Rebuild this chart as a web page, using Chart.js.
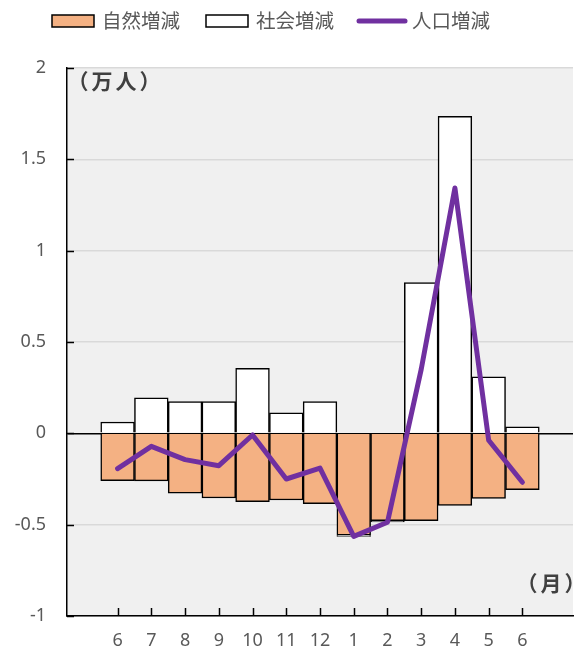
<!DOCTYPE html>
<html>
<head>
<meta charset="utf-8">
<script src="https://cdn.jsdelivr.net/npm/chart.js@4/dist/chart.umd.min.js"></script>
<style>
  html, body { margin: 0; padding: 0; background: #ffffff; }
  #wrap { width: 579px; height: 652px; }
</style>
</head>
<body>
<div id="wrap"><canvas id="c" width="579" height="652"></canvas></div>
<script>
// ---- data (万人) ----
const months = ['6','7','8','9','10','11','12','1','2','3','4','5','6'];
const naturalChange = [-0.259, -0.26, -0.328, -0.354, -0.374, -0.365, -0.385, -0.558, -0.478, -0.478, -0.394, -0.356, -0.308];
const socialChange  = [0.062, 0.194, 0.174, 0.174, 0.356, 0.112, 0.174, -0.007, -0.007, 0.825, 1.735, 0.31, 0.035];
const populationChange = [-0.193, -0.071, -0.144, -0.177, -0.009, -0.25, -0.19, -0.564, -0.487, 0.35, 1.343, -0.038, -0.268];
const yTicks = [-1, -0.5, 0, 0.5, 1, 1.5, 2];
const yTickLabels = ['-1', '-0.5', '0', '0.5', '1', '1.5', '2'];
const seriesNames = ['自然増減', '社会増減', '人口増減'];
const yUnit = '（万人）';
const xUnit = '（月）';

// pad one empty category on each side
const labels = [''].concat(months, ['']);
const pad = arr => [null].concat(arr, [null]);

const CJK = '"Noto Sans CJK JP", "Noto Sans", sans-serif';
const NUM = '"Noto Sans", "DejaVu Sans", sans-serif';

const bgPlugin = {
  id: 'plotBg',
  beforeDraw(chart) {
    const {ctx, chartArea: a} = chart;
    ctx.save();
    ctx.fillStyle = '#f0f0f0';
    ctx.fillRect(a.left, a.top, a.right - a.left, a.bottom - a.top);
    ctx.restore();
  }
};

const decoPlugin = {
  id: 'deco',
  afterDraw(chart) {
    const {ctx, chartArea: a, scales} = chart;
    ctx.save();
    // inward tick marks
    ctx.strokeStyle = '#000';
    ctx.lineWidth = 1.5;
    ctx.beginPath();
    yTicks.forEach(v => {
      const y = Math.round(scales.y.getPixelForValue(v)) + 0.5;
      ctx.moveTo(a.left, y); ctx.lineTo(a.left + 7, y);
    });
    months.forEach((m, i) => {
      const x = Math.round(scales.x.getPixelForValue(i + 1)) + 0.5;
      ctx.moveTo(x, a.bottom); ctx.lineTo(x, a.bottom - 8);
    });
    ctx.stroke();

    // unit labels
    ctx.fillStyle = '#404040';
    ctx.font = 'bold 21px ' + CJK;
    ctx.letterSpacing = '3px';
    ctx.textBaseline = 'middle';
    ctx.textAlign = 'left';
    ctx.fillText(yUnit, a.left + 0.5, a.top + 13);
    ctx.fillText(xUnit, a.right - 56.5, a.bottom - 33);
    ctx.letterSpacing = '0px';

    // legend
    const items = chart.data.datasets;
    const pos = [52, 206, 358];
    const cy = 21;
    ctx.font = '19.5px ' + CJK;
    ctx.textAlign = 'left';
    ctx.fillStyle = '#595959';
    items.forEach((ds, i) => {
      const x = pos[i];
      if (ds.type === 'line') {
        ctx.strokeStyle = ds.borderColor;
        ctx.lineWidth = 5;
        ctx.lineCap = 'round';
        ctx.beginPath(); ctx.moveTo(x + 1, cy); ctx.lineTo(x + 47, cy); ctx.stroke();
        ctx.fillStyle = '#595959';
        ctx.fillText(ds.label, x + 54, cy);
      } else {
        ctx.fillStyle = ds.backgroundColor;
        ctx.fillRect(x, cy - 6, 42, 12);
        ctx.strokeStyle = '#000';
        ctx.lineWidth = 1.5;
        ctx.strokeRect(x, cy - 6, 42, 12);
        ctx.fillStyle = '#595959';
        ctx.fillText(ds.label, x + 50, cy);
      }
    });
    ctx.restore();
  }
};

new Chart(document.getElementById('c'), {
  data: {
    labels: labels,
    datasets: [
      {
        type: 'bar', label: seriesNames[0], data: pad(naturalChange),
        backgroundColor: '#F4B183', borderColor: '#000000', borderWidth: 1.5,
        barPercentage: 1.0, categoryPercentage: 1.0, stack: 'bars', order: 2
      },
      {
        type: 'bar', label: seriesNames[1], data: pad(socialChange),
        backgroundColor: '#FFFFFF', borderColor: '#000000', borderWidth: 1.5,
        barPercentage: 1.0, categoryPercentage: 1.0, stack: 'bars', order: 2
      },
      {
        type: 'line', label: seriesNames[2], data: pad(populationChange),
        borderColor: '#7030A0', backgroundColor: '#7030A0', borderWidth: 5,
        pointRadius: 0, tension: 0, fill: false, stack: 'line', order: 0,
        borderCapStyle: 'round', borderJoinStyle: 'round'
      }
    ]
  },
  options: {
    responsive: false,
    animation: false,
    devicePixelRatio: 1,
    layout: { padding: { top: 68, right: 6, left: 0, bottom: 0 } },
    plugins: { legend: { display: false }, tooltip: { enabled: false } },
    scales: {
      x: {
        stacked: true,
        offset: true,
        grid: { display: false, drawTicks: false },
        border: { display: true, color: '#000', width: 1.5 },
        ticks: { color: '#595959', font: { family: NUM, size: 18 }, padding: 14, autoSkip: false, maxRotation: 0 },
        afterFit(s) { s.height = 36; }
      },
      y: {
        stacked: true,
        min: -1, max: 2,
        afterBuildTicks(s) { s.ticks = yTicks.map(v => ({ value: v })); },
        grid: {
          drawTicks: false,
          color: c => (c.tick && c.tick.value === 0) ? '#000000' : '#d9d9d9',
          lineWidth: 1.5
        },
        border: { display: true, color: '#000', width: 1.5 },
        ticks: {
          color: '#595959', font: { family: NUM, size: 18 }, padding: 21,
          callback: (v) => { const i = yTicks.indexOf(v); return i >= 0 ? yTickLabels[i] : ''; }
        },
        afterFit(s) { s.width = 67; }
      }
    }
  },
  plugins: [bgPlugin, decoPlugin]
});
</script>
</body>
</html>
